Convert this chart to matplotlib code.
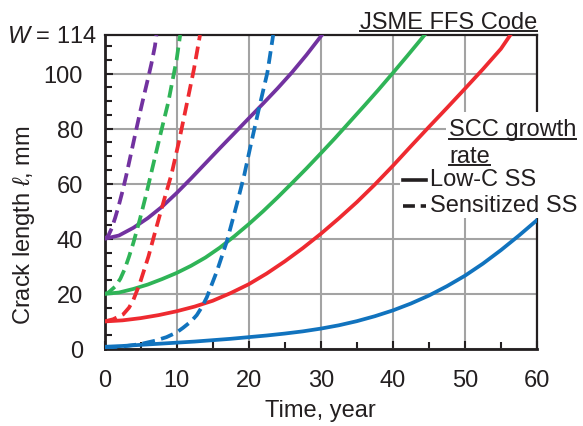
import matplotlib
matplotlib.use('Agg')
import matplotlib.pyplot as plt
from matplotlib.lines import Line2D
from matplotlib.patches import Rectangle
from matplotlib.ticker import MultipleLocator

plt.rcParams['font.family'] = ['Liberation Sans', 'DejaVu Sans']
plt.rcParams['mathtext.fontset'] = 'custom'
plt.rcParams['mathtext.it'] = 'Liberation Sans:italic'
plt.rcParams['mathtext.rm'] = 'Liberation Sans'

# ---------------- data ----------------
blue_solid_t = [0, 2.5, 5, 7.5, 10, 12.5, 15, 17.5, 20, 22.5, 25, 27.5, 30, 32.5, 35,
                37.5, 40, 42.5, 45, 47.5, 50, 52.5, 55, 57.5, 60]
blue_solid_v = [0.8, 1.1, 1.5, 1.9, 2.3, 2.7, 3.2, 3.7, 4.3, 4.9, 5.6, 6.4, 7.4, 8.6,
                10.1, 11.9, 14.0, 16.5, 19.4, 22.8, 26.6, 31.0, 35.9, 41.2, 46.8]

red_solid_t = [0, 2.5, 5, 7.5, 10, 12.5, 15, 17.5, 20, 22.5, 25, 27.5, 30, 32.5, 35,
               37.5, 40, 42.5, 45, 47.5, 50, 52.5, 55, 56.3]
red_solid_v = [10, 10.4, 11.2, 12.3, 13.7, 15.4, 17.5, 20.3, 23.5, 27.4, 31.8, 36.6,
               41.8, 47.4, 53.3, 59.7, 66.5, 73.6, 80.6, 87.5, 94.5, 101.6, 109.0, 114]

green_solid_t = [0, 2, 4, 6, 8, 10, 12, 14, 16, 18, 20, 22, 24, 26, 28, 30, 32, 34, 36,
                 38, 40, 42, 44.4]
green_solid_v = [20, 20.5, 21.8, 23.4, 25.4, 27.6, 30.2, 33.2, 36.8, 40.9, 45.3, 50.0,
                 55.0, 60.2, 65.5, 71.0, 76.6, 82.4, 88.2, 94.1, 100.2, 106.4, 114]

purple_solid_t = [0, 2, 4, 6, 8, 10, 12, 14, 16, 18, 20, 22, 24, 26, 28, 30.1]
purple_solid_v = [40, 41.2, 44.0, 47.5, 51.7, 56.6, 61.9, 67.4, 72.9, 78.3, 83.7, 89.1,
                  94.6, 100.4, 106.7, 113.8]

blue_dash_t = [0, 2.5, 5, 7, 8.6, 10, 10.9, 12, 12.8, 13.5, 14.2, 15.6, 17, 18.4, 19.4,
               20.2, 21.4, 22.6, 23.4]
blue_dash_v = [0.5, 0.9, 1.8, 3.0, 4.3, 6.0, 7.7, 10.0, 12.3, 15.2, 18.8, 28.3, 39.3, 53.0,
               63.3, 73.0, 87.0, 100.4, 114]

red_dash_t = [0, 1.2, 2.6, 3.4, 4, 4.9, 6.1, 7.2, 8.2, 9.3, 10.3, 11.3, 12.4, 13.25]
red_dash_v = [10, 10.8, 12.6, 15.0, 17.8, 23.8, 33.6, 44.2, 53.5, 63.5, 75, 87.5, 101.5, 114]

green_dash_t = [0, 0.5, 1.5, 2.2, 2.8, 3.4, 4, 4.9, 5.8, 6.6, 7.7, 8.85, 9.4, 10, 10.5]
green_dash_v = [20, 20.4, 22.7, 25.5, 29, 33.5, 38.5, 47.0, 56.3, 65.2, 77.3, 89.6, 97.0,
                105, 114]

purple_dash_t = [0, 0.5, 1, 1.5, 2, 2.5, 3, 3.5, 4, 4.5, 5, 5.5, 6, 6.5, 7, 7.2]
purple_dash_v = [40, 41, 43.8, 47.8, 52.3, 57.3, 62.8, 68.8, 74.8, 80.8, 86.7, 92.3, 97.8,
                 103.5, 110, 114]

x_ticks = [0, 10, 20, 30, 40, 50, 60]
y_ticks = [0, 20, 40, 60, 80, 100]
W = 114

BLUE = '#1173be'
RED = '#ee2a30'
GREEN = '#2fb457'
PURPLE = '#7232a0'
INK = '#231f20'
FS = 17

# ---------------- figure ----------------
FW, FH = 583, 427
fig = plt.figure(figsize=(FW / 100, FH / 100), dpi=100)
def fx(px):
    return px / FW
def fy(py):
    return 1 - py / FH

ax = fig.add_axes([fx(104.5), fy(350), fx(537) - fx(104.5), fy(36) - fy(350)])
ax.set_xlim(0, 60)
ax.set_ylim(0, W)

lw = 2.7
dash = (0, (3.4, 1.7))
ax.plot(blue_solid_t, blue_solid_v, color=BLUE, lw=lw, zorder=3)
ax.plot(red_solid_t, red_solid_v, color=RED, lw=lw, zorder=3)
ax.plot(green_solid_t, green_solid_v, color=GREEN, lw=lw, zorder=3)
ax.plot(purple_solid_t, purple_solid_v, color=PURPLE, lw=lw, zorder=3)
ax.plot(blue_dash_t, blue_dash_v, color=BLUE, lw=lw, ls=dash, zorder=3)
ax.plot(red_dash_t, red_dash_v, color=RED, lw=lw, ls=dash, zorder=3)
ax.plot(green_dash_t, green_dash_v, color=GREEN, lw=lw, ls=dash, zorder=3)
ax.plot(purple_dash_t, purple_dash_v, color=PURPLE, lw=lw, ls=dash, zorder=3)

ax.set_xticks(x_ticks)
ax.set_yticks(y_ticks)
ax.xaxis.set_minor_locator(MultipleLocator(5))
ax.yaxis.set_minor_locator(MultipleLocator(5))
ax.tick_params(axis='both', which='both', direction='in', colors=INK, labelcolor=INK,
               labelsize=FS, width=1.5)
ax.tick_params(axis='y', which='major', length=6, pad=15.5)
ax.tick_params(axis='x', which='major', length=6, pad=14.5)
ax.tick_params(axis='both', which='minor', length=5)
ax.grid(True, which='major', color='#a3a3a3', lw=1.5, zorder=0)
ax.set_axisbelow(True)
for s in ax.spines.values():
    s.set_color(INK)
ax.spines['left'].set_linewidth(2.0)
ax.spines['bottom'].set_linewidth(2.0)
ax.spines['top'].set_linewidth(1.6)
ax.spines['right'].set_linewidth(1.6)

# axis labels
fig.text(fx(320), fy(411), 'Time, year', ha='center', va='center', fontsize=FS, color=INK)
fig.text(fx(24), fy(225), r'Crack length $\ell$, mm', ha='center', va='center',
         rotation=90, fontsize=FS, color=INK)
fig.text(fx(97), fy(37), r'$W$ = 114', ha='right', va='center', fontsize=FS, color=INK)

# white area hiding grid/spine behind legend
fig.patches.append(Rectangle((fx(446), fy(170)), fx(583) - fx(446), fy(113) - fy(170),
                             transform=fig.transFigure, fc='white', ec='none', zorder=2))
fig.patches.append(Rectangle((fx(400), fy(219)), fx(583) - fx(400), fy(168) - fy(219),
                             transform=fig.transFigure, fc='white', ec='none', zorder=2))

t_jsme = fig.text(fx(537), fy(29), 'JSME FFS Code', ha='right', va='baseline',
                  fontsize=FS, color=INK, zorder=4)
t_scc = fig.text(fx(449), fy(136), 'SCC growth', ha='left', va='baseline',
                 fontsize=FS, color=INK, zorder=4)
t_rate = fig.text(fx(449), fy(163), 'rate', ha='left', va='baseline',
                  fontsize=FS, color=INK, zorder=4)

# legend entries
fig.add_artist(Line2D([fx(403), fx(426)], [fy(181), fy(181)], color=INK, lw=2.6,
                      transform=fig.transFigure, zorder=4))
fig.add_artist(Line2D([fx(403), fx(426)], [fy(207), fy(207)], color=INK, lw=2.6,
                      ls=(0, (3.3, 1.6)), transform=fig.transFigure, zorder=4))
fig.text(fx(430), fy(180), 'Low-C SS', ha='left', va='center', fontsize=FS, color=INK, zorder=4)
fig.text(fx(430), fy(206), 'Sensitized SS', ha='left', va='center', fontsize=FS, color=INK, zorder=4)

# underlines
fig.canvas.draw()
r = fig.canvas.get_renderer()
inv = fig.transFigure.inverted()
for t, off in [(t_jsme, 3.0), (t_scc, 4.0), (t_rate, 3.0)]:
    bb = t.get_window_extent(renderer=r)
    (x0, _), (x1, _) = inv.transform([(bb.x0, bb.y0), (bb.x1, bb.y1)])
    ybase = t.get_position()[1] - off / FH
    fig.add_artist(Line2D([x0, x1], [ybase, ybase], color=INK, lw=1.4,
                          transform=fig.transFigure, zorder=4))

fig.savefig('out.png', dpi=100)
